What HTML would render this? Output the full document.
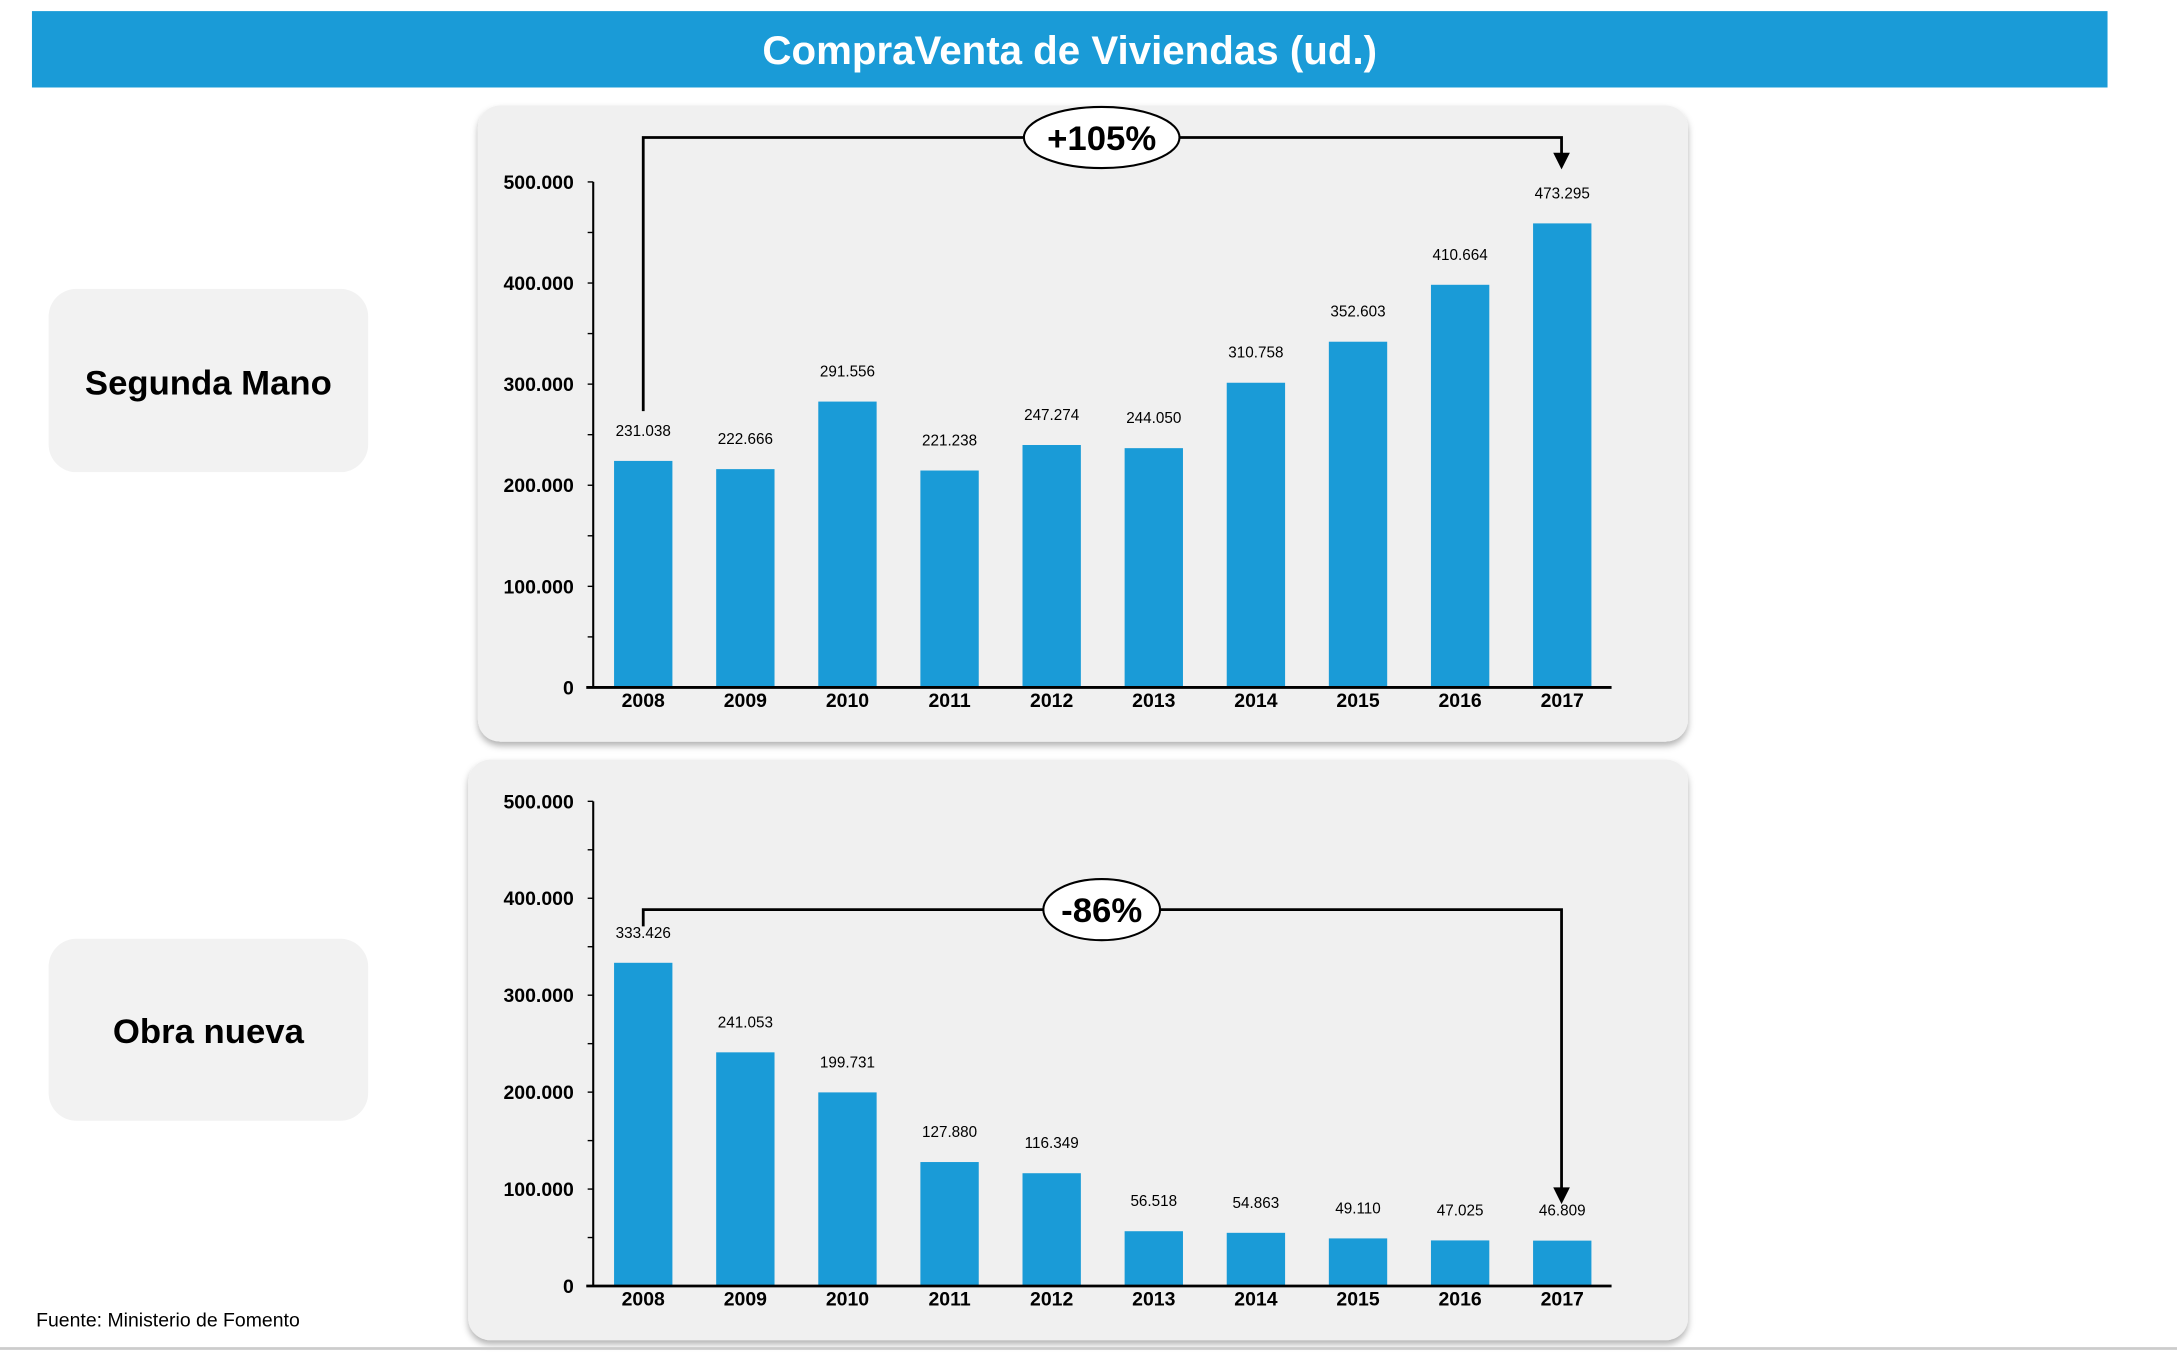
<!DOCTYPE html>
<html><head><meta charset="utf-8"><style>
html,body{margin:0;padding:0;background:#fff;}
svg{display:block;}
text{font-family:"Liberation Sans",sans-serif;}
</style></head><body>
<svg id="s" width="2177" height="1361" viewBox="0 0 1567 980" preserveAspectRatio="none" xmlns="http://www.w3.org/2000/svg">
<defs>
<filter id="sh" x="-5%" y="-5%" width="110%" height="115%"><feDropShadow dx="0" dy="3" stdDeviation="2.5" flood-color="#000" flood-opacity="0.3"/></filter>
</defs>
<rect x="23" y="8" width="1494" height="55" fill="#1a9bd7"/>
<text x="770" y="46" text-anchor="middle" fill="#fff" font-size="29" font-weight="bold">CompraVenta de Viviendas (ud.)</text>
<rect x="35" y="208" width="230" height="132" rx="20" fill="#f2f2f2"/>
<text x="150" y="284" text-anchor="middle" font-size="25" font-weight="bold">Segunda Mano</text>
<rect x="35" y="676" width="230" height="131" rx="20" fill="#f2f2f2"/>
<text x="150" y="751" text-anchor="middle" font-size="25" font-weight="bold">Obra nueva</text>
<rect x="344" y="76" width="871" height="458" rx="16" fill="#f0f0f0" filter="url(#sh)"/>
<rect x="337" y="547" width="878" height="418" rx="16" fill="#f0f0f0" filter="url(#sh)"/>
<text x="26" y="955" font-size="14">Fuente: Ministerio de Fomento</text>
<line x1="0" y1="971" x2="1567" y2="971" stroke="#ccc" stroke-width="2"/>
<g id="c1"></g><g id="c2"></g>
</svg>
<script>
const years = ["2008","2009","2010","2011","2012","2013","2014","2015","2016","2017"];
const segundaMano = [231038,222666,291556,221238,247274,244050,310758,352603,410664,473295];
const obraNueva = [333426,241053,199731,127880,116349,56518,54863,49110,47025,46809];
const segundaLabels = ["231.038","222.666","291.556","221.238","247.274","244.050","310.758","352.603","410.664","473.295"];
const obraLabels = ["333.426","241.053","199.731","127.880","116.349","56.518","54.863","49.110","47.025","46.809"];
const yTicks = [0,100000,200000,300000,400000,500000];
const yTickLabels = ["0","100.000","200.000","300.000","400.000","500.000"];
const NS="http://www.w3.org/2000/svg";
function mk(p,t,a){const e=document.createElementNS(NS,t);for(const k in a)e.setAttribute(k,a[k]);p.appendChild(e);return e;}
function chart(gid,vals,labels,y0,y500,lblOff,name,ann){
  const g=document.getElementById(gid);
  const y=v=>y0-(v/500000)*(y0-y500);
  const x=i=>463+i*73.5;
  const ax=mk(g,'line',{x1:427,y1:y500+lblOff,x2:427,y2:y0,stroke:'#000','stroke-width':1.5});
  
  
  for(let v=0;v<=500000;v+=50000){mk(g,'line',{x1:423,x2:427,y1:y(v)+lblOff*(v/500000),y2:y(v)+lblOff*(v/500000),stroke:'#000','stroke-width':1});}
  yTicks.forEach((v,i)=>{const t=mk(g,'text',{x:413,y:y(v)+lblOff*(v/500000)+5,'text-anchor':'end','font-size':14,'font-weight':'bold'});t.textContent=yTickLabels[i];
    
    });
  vals.forEach((v,i)=>{
    const b=mk(g,'rect',{x:x(i)-21,y:y(v),width:42,height:y0-y(v),fill:'#1a9bd7'});
    
    
    const l=mk(g,'text',{x:x(i),y:y(v)-18,'text-anchor':'middle','font-size':11});l.textContent=labels[i];
    
    
    const yl=mk(g,'text',{x:x(i),y:y0+14,'text-anchor':'middle','font-size':14,'font-weight':'bold'});yl.textContent=years[i];
    
    
  });
  const xa=mk(g,'line',{x1:422,y1:y0,x2:1160,y2:y0,stroke:'#000','stroke-width':2});
  
  
  const p=mk(g,'polyline',{points:`463,${ann.start} 463,${ann.top} 1124,${ann.top} 1124,${ann.end-10}`,fill:'none',stroke:'#000','stroke-width':2});
  
  
  const ah=mk(g,'polygon',{points:`1118,${ann.end-12} 1130,${ann.end-12} 1124,${ann.end}`,fill:'#000'});
  
  
  const e=mk(g,'ellipse',{cx:793,cy:ann.top,rx:ann.rx,ry:22,fill:'#fff',stroke:'#000','stroke-width':1.5});
  
  
  const t=mk(g,'text',{x:793,y:ann.top+9,'text-anchor':'middle','font-size':25,'font-weight':'bold'});t.textContent=ann.text;
  
  
}
chart('c1',segundaMano,segundaLabels,495,142,-11,'segunda-mano',{start:296,top:99,end:122,rx:56,text:'+105%'});
chart('c2',obraNueva,obraLabels,926,577,0,'obra-nueva',{start:667,top:655,end:867,rx:42,text:'-86%'});
</script>
</body></html>
